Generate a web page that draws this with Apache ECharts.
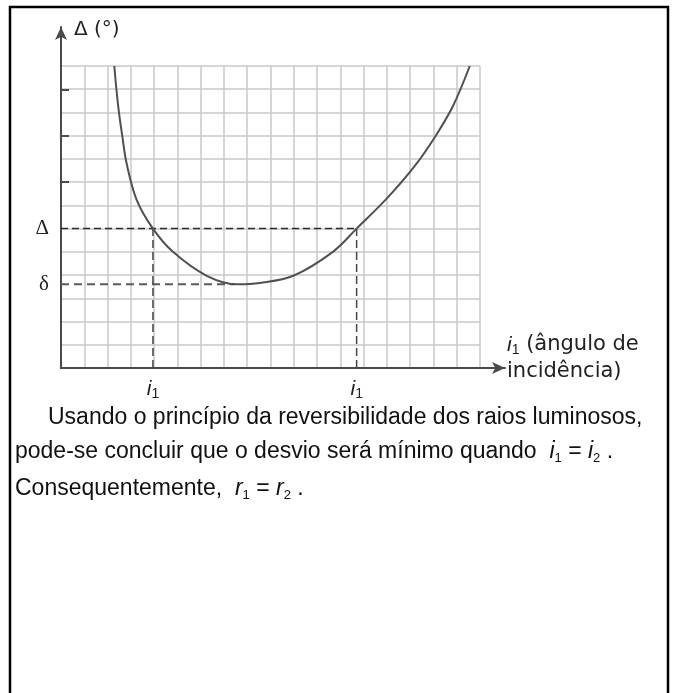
<!DOCTYPE html>
<html>
<head>
<meta charset="utf-8">
<script src="https://cdn.jsdelivr.net/npm/echarts@6/dist/echarts.min.js"></script>
<style>
  html, body { margin: 0; padding: 0; background: #fff; }
  #chart { width: 675px; height: 693px; }
</style>
</head>
<body>
<div id="chart"></div>
<script>
// curve, in grid squares
const curveX = [2.29, 2.38, 2.49, 2.63, 2.82, 3.25, 3.95, 4.81, 6.26, 7.6, 8.55, 9.98, 11.68, 12.7, 14.0, 15.2, 16.1, 16.85, 17.56];
const curveY = [13, 12, 11, 10, 8.8, 7.24, 6, 5, 3.97, 3.6, 3.66, 3.97, 5, 6, 7.3, 8.7, 10.0, 11.3, 13];

const deltaLevel = 6;      // Δ
const deltaMinLevel = 3.6; // δ
const minAt = 7.45;
const i1Values = [3.95, 12.7];
const yTickValues = [8, 10, 12];
const yLabelValues = [deltaLevel, deltaMinLevel];
const yLabelTexts = ['Δ', 'δ'];

const sans = "'Liberation Sans', Arial, sans-serif";
const wide = "'DejaVu Sans', Verdana, sans-serif";
const dashDark = '#2a2a2a';

const chart = echarts.init(document.getElementById('chart'));

const dashed = (pts, color, dash, w) => ({
  type: 'line', xAxisIndex: 0, yAxisIndex: 0,
  data: pts, symbol: 'none', silent: true,
  lineStyle: { color: color, width: w, type: dash }
});

const sub = (size, pad, color) => ({ fontFamily: sans, fontSize: size, color: color, fill: color, lineHeight: 26, verticalAlign: 'bottom', padding: [pad, 0, 0, 0] });

const options = {
  animation: false,
  grid: [
    { left: 61, top: 66, width: 419, height: 302 },
    { left: 61, top: 27, width: 444, height: 341 }
  ],
  xAxis: [
    {
      gridIndex: 0, type: 'value', min: 0, max: 18, interval: 1,
      axisLine: { show: false }, axisTick: { show: false }, axisLabel: { show: false },
      splitLine: { lineStyle: { color: '#c9c9c9', width: 1.5 } }
    },
    {
      gridIndex: 1, type: 'value', min: 0, max: 19.07,
      axisLine: { show: true, symbol: ['none', 'arrow'], symbolSize: [9, 13], lineStyle: { color: '#4a4a4a', width: 2 } },
      axisTick: { show: false },
      splitLine: { show: false },
      axisLabel: {
        customValues: i1Values, margin: 9,
        formatter: () => '{i|i}{s|1}',
        rich: {
          i: { fontFamily: sans, fontStyle: 'italic', fontSize: 21, color: '#222', lineHeight: 24 },
          s: { fontFamily: sans, fontSize: 14, color: '#222', lineHeight: 24, verticalAlign: 'bottom', padding: [8, 0, 0, 0] }
        }
      }
    }
  ],
  yAxis: [
    {
      gridIndex: 0, type: 'value', min: 0, max: 13, interval: 1,
      axisLine: { show: false }, axisTick: { show: false }, axisLabel: { show: false },
      splitLine: { lineStyle: { color: '#c9c9c9', width: 1.5 } }
    },
    {
      gridIndex: 1, type: 'value', min: 0, max: 14.68,
      axisLine: { show: true, symbol: ['none', 'arrow'], symbolSize: [9, 13], lineStyle: { color: '#4a4a4a', width: 2 } },
      axisTick: { show: true, inside: true, length: 8, customValues: yTickValues, lineStyle: { color: '#4a4a4a', width: 2 } },
      splitLine: { show: false },
      axisLabel: {
        customValues: yLabelValues, margin: 12,
        formatter: v => yLabelTexts[yLabelValues.indexOf(v)],
        fontFamily: "'Liberation Serif', 'DejaVu Serif', serif", fontSize: 21, color: '#222'
      }
    }
  ],
  series: [
    dashed([[0, deltaLevel], [i1Values[1], deltaLevel]], dashDark, [7, 4], 1.5),
    dashed([[0, deltaMinLevel], [minAt, deltaMinLevel]], '#5a5a5a', [8, 5], 2),
    dashed([[i1Values[0], 0], [i1Values[0], deltaLevel]], '#444', [8, 4], 1.5),
    dashed([[i1Values[1], 0], [i1Values[1], deltaLevel]], '#444', [8, 4], 1.5),
    {
      type: 'line', xAxisIndex: 0, yAxisIndex: 0,
      data: curveX.map((x, k) => [x, curveY[k]]),
      smooth: 0.35, symbol: 'none', silent: true,
      lineStyle: { color: '#505050', width: 2 }
    }
  ],
  graphic: [
    {
      type: 'polyline', silent: true,
      shape: { points: [[10, 700], [10, 7], [668, 7], [668, 700]] },
      style: { fill: null, stroke: '#000', lineWidth: 2.5 }
    },
    {
      type: 'text', x: 74, y: 30,
      style: { text: 'Δ (°)', font: '20px ' + wide, fill: '#222', verticalAlign: 'middle' }
    },
    {
      type: 'text', x: 507, y: 345,
      style: {
        text: '{i|i}{s|1}{t| (ângulo de}',
        verticalAlign: 'middle',
        rich: {
          i: { fontFamily: sans, fontStyle: 'italic', fontSize: 21, fill: '#222', lineHeight: 24 },
          s: { fontFamily: sans, fontSize: 14, fill: '#222', lineHeight: 24, verticalAlign: 'bottom', padding: [8, 0, 0, 0] },
          t: { fontFamily: wide, fontSize: 21, fill: '#222', lineHeight: 24 }
        }
      }
    },
    {
      type: 'text', x: 507, y: 372,
      style: { text: 'incidência)', font: '21px ' + wide, fill: '#222', verticalAlign: 'middle' }
    },
    {
      type: 'text', x: 48, y: 418,
      style: { text: 'Usando o princípio da reversibilidade dos raios luminosos,', font: '23px ' + sans, fill: '#111', verticalAlign: 'middle' }
    },
    {
      type: 'text', x: 15, y: 452,
      style: {
        text: '{t|pode-se concluir que o desvio será mínimo quando  }{m|i}{s|1}{t| = }{m|i}{s|2}{t| .}',
        verticalAlign: 'middle',
        rich: {
          t: { fontFamily: sans, fontSize: 23, fill: '#111', lineHeight: 26 },
          m: { fontFamily: sans, fontStyle: 'italic', fontSize: 23, fill: '#111', lineHeight: 26 },
          s: sub(13, 9, '#111')
        }
      }
    },
    {
      type: 'text', x: 15, y: 489,
      style: {
        text: '{t|Consequentemente,  }{m|r}{s|1}{t| = }{m|r}{s|2}{t| .}',
        verticalAlign: 'middle',
        rich: {
          t: { fontFamily: sans, fontSize: 23, fill: '#111', lineHeight: 26 },
          m: { fontFamily: sans, fontStyle: 'italic', fontSize: 23, fill: '#111', lineHeight: 26 },
          s: sub(13, 9, '#111')
        }
      }
    }
  ]
};

chart.setOption(options);
</script>
</body>
</html>
